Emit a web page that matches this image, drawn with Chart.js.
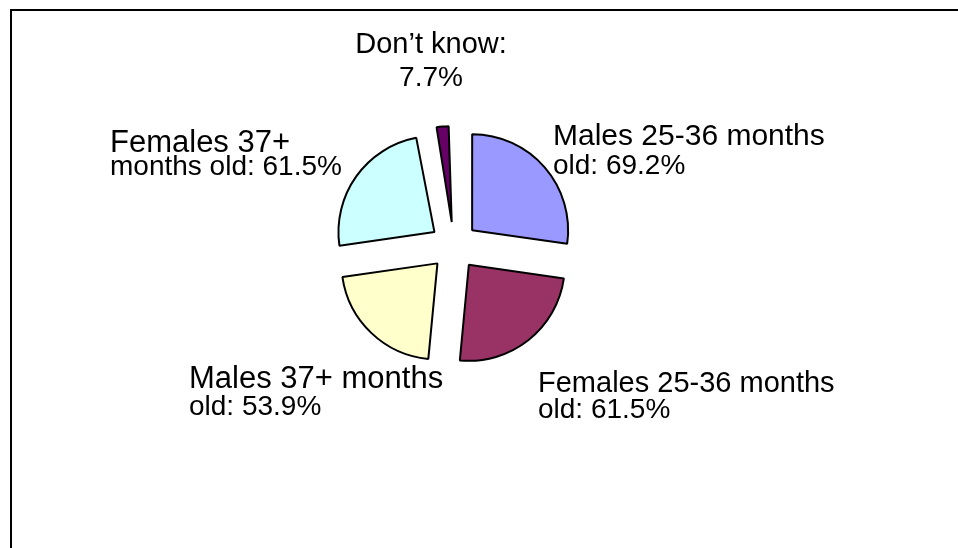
<!DOCTYPE html>
<html>
<head>
<meta charset="utf-8">
<title>Age and sex pie</title>
<script src="https://cdn.jsdelivr.net/npm/chart.js@4"></script>
<style>
  html, body { margin: 0; padding: 0; background: #fff; }
  #wrap { width: 958px; height: 548px; position: relative; }
</style>
</head>
<body>
<div id="wrap"><canvas id="pie" width="958" height="548"></canvas></div>
<script>
// data
const categories = ['Males 25-36 months old', 'Females 25-36 months old', 'Males 37+ months old', 'Females 37+ months old', 'Don\u2019t know'];
const values = [69.2, 61.5, 53.9, 61.5, 7.7];
const sliceColors = ['#9999FF', '#993366', '#FFFFCC', '#CCFFFF', '#660066'];

// label text split in two lines, as in the original
const labelLines = [
    ['Males 25-36 months', 'old: '],
    ['Females 25-36 months', 'old: '],
    ['Males 37+ months', 'old: '],
    ['Females 37+', 'months old: '],
    ['Don\u2019t know:', '']
];

// where each label sits, relative to the pie centre (px)
const labelLayout = [
    { dx: 99, dy: -101, gap: 29, align: 'left' },
    { dx: 84, dy: 146, gap: 26, align: 'left' },
    { dx: -265, dy: 142, gap: 27, align: 'left' },
    { dx: -344, dy: -94, gap: 23, align: 'left' },
    { dx: -23, dy: -193, gap: 33, align: 'center' }
];
const labelFonts = [
    ['30px "Liberation Sans", Arial', '28px "Liberation Sans", Arial'],
    ['29px "Liberation Sans", Arial', '28px "Liberation Sans", Arial'],
    ['31px "Liberation Sans", Arial', '28px "Liberation Sans", Arial'],
    ['31px "Liberation Sans", Arial', '28px "Liberation Sans", Arial'],
    ['29px "Liberation Sans", Arial', '28px "Liberation Sans", Arial']
];

const OFFSET = 96;

const framePlugin = {
    id: 'frame',
    beforeDraw(chart) {
        const ctx = chart.ctx;
        ctx.save();
        ctx.fillStyle = '#fff';
        ctx.fillRect(0, 0, chart.width, chart.height);
        ctx.strokeStyle = '#000';
        ctx.lineWidth = 2;
        ctx.beginPath();
        ctx.moveTo(11, chart.height);
        ctx.lineTo(11, 10);
        ctx.lineTo(chart.width, 10);
        ctx.stroke();
        ctx.restore();
    }
};

// keep thin slices from growing when exploded
const radiusFix = {
    id: 'radiusFix',
    beforeDatasetsDraw(chart) {
        const meta = chart.getDatasetMeta(0);
        const base = meta.controller.outerRadius;
        meta.data.forEach(arc => {
            const c = arc.circumference;
            const fix = 1 - Math.sin(Math.min(Math.PI, c));
            arc.outerRadius = base - (OFFSET / 4) * fix;
        });
    }
};

const sliceLabels = {
    id: 'sliceLabels',
    afterDatasetsDraw(chart) {
        const ctx = chart.ctx;
        const meta = chart.getDatasetMeta(0);
        const cx = meta.data[0].x;
        const cy = meta.data[0].y;
        ctx.save();
        ctx.fillStyle = '#000';
        ctx.textBaseline = 'alphabetic';
        labelLines.forEach((lines, i) => {
            const pos = labelLayout[i];
            ctx.textAlign = pos.align;
            ctx.font = labelFonts[i][0];
            ctx.fillText(lines[0], cx + pos.dx, cy + pos.dy);
            ctx.font = labelFonts[i][1];
            ctx.fillText(lines[1] + values[i].toFixed(1) + '%', cx + pos.dx, cy + pos.dy + pos.gap);
        });
        ctx.restore();
    }
};

new Chart(document.getElementById('pie'), {
    type: 'pie',
    data: {
        labels: categories,
        datasets: [{
            data: values,
            backgroundColor: sliceColors,
            borderColor: '#000',
            borderWidth: 2,
            offset: OFFSET
        }]
    },
    options: {
        responsive: false,
        animation: false,
        events: [],
        radius: 96,
        layout: {
            padding: { left: 0, right: 50, top: 0, bottom: 56 }
        },
        plugins: {
            legend: { display: false },
            tooltip: { enabled: false }
        }
    },
    plugins: [framePlugin, radiusFix, sliceLabels]
});
</script>
</body>
</html>
